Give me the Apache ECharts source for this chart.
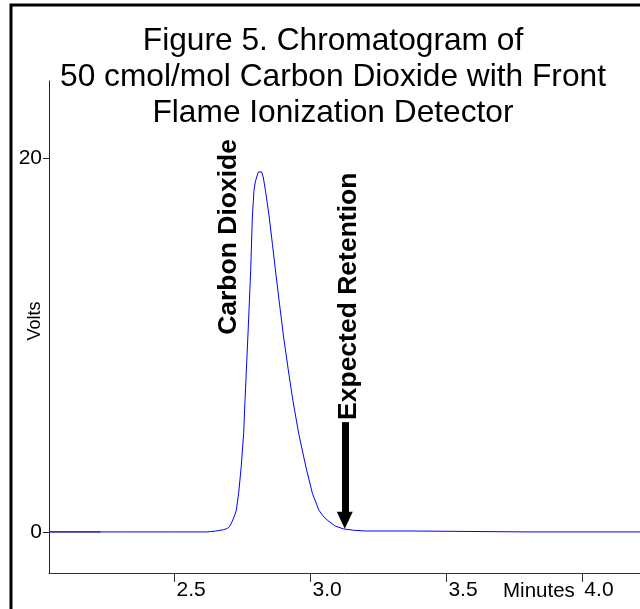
<!DOCTYPE html>
<html>
<head>
<meta charset="utf-8">
<script src="https://cdn.jsdelivr.net/npm/echarts@6/dist/echarts.min.js"></script>
<style>
html,body{margin:0;padding:0;background:#fff;}
#chart{width:640px;height:609px;}
</style>
</head>
<body>
<div id="chart"></div>
<script>
// ---- data ----
const titleLines = ['Figure 5. Chromatogram of', '50 cmol/mol Carbon Dioxide with Front', 'Flame Ionization Detector'];
const xTickValues = [2.5, 3.0, 3.5, 4.0];
const yTickValues = [0, 20];
const xAxisName = 'Minutes';
const yAxisName = 'Volts';

// main FID trace (minutes, volts)
const traceMinutes = [2.038, 2.3, 2.5, 2.62, 2.6315, 2.648, 2.663, 2.68, 2.693, 2.703, 2.711, 2.72, 2.727, 2.7355, 2.745, 2.754, 2.759, 2.770, 2.780, 2.786, 2.792, 2.797, 2.802, 2.808, 2.814, 2.820, 2.826, 2.834, 2.841, 2.848, 2.860, 2.871, 2.886, 2.901, 2.918, 2.935, 2.9565, 2.983, 3.007, 3.031, 3.046, 3.0616, 3.0917, 3.1217, 3.158, 3.20, 3.37, 3.375, 3.8, 4.212];
const traceVolts   = [0, 0, 0, 0.0, 0.02, 0.04, 0.075, 0.12, 0.18, 0.3, 0.54, 0.85, 1.16, 2.06, 3.48, 5.27, 7.05, 10.6, 14.02, 16.87, 18.30, 18.75, 19.01, 19.28, 19.37, 19.28, 19.01, 18.30, 17.6, 16.87, 15.4, 14.02, 12.2, 10.44, 8.7, 7.05, 5.27, 3.48, 2.06, 1.16, 0.86, 0.63, 0.31, 0.16, 0.09, 0.05, 0.05, 0.0, 0.0, 0.0];

// short dark overlapping baseline segment at the start
const darkMinutes = [2.038, 2.228];
const darkVolts = [0, 0];

// annotations (data coordinates)
const peakLabel = { text: 'Carbon Dioxide', at: [2.698, 15.8] };
const retentionLabel = { text: 'Expected Retention', at: [3.14, 12.62] };
const arrowFrom = [3.126, 5.88];
const arrowTo = [3.126, 0.62];

const xMin = 2.038, xMax = 4.212;
const yMin = -2.2, yMax = 24.15;

// ---- chart ----
const chart = echarts.init(document.getElementById('chart'), null, { renderer: 'canvas' });
const FONT = 'Liberation Sans, Arial, sans-serif';

const option = {
  animation: false,
  backgroundColor: '#fff',
  title: {
    text: titleLines.join('\n'),
    left: 328,
    top: 18,
    textAlign: 'center',
    textStyle: { fontFamily: FONT, fontSize: 31.7, fontWeight: 'normal', color: '#000', lineHeight: 36 }
  },
  grid: { left: 49, top: 81, width: 600, height: 492, containLabel: false },
  xAxis: {
    type: 'value',
    min: xMin, max: xMax,
    axisLine: { show: true, onZero: false, lineStyle: { color: '#333', width: 1 } },
    axisTick: { show: true, length: 9, customValues: xTickValues, lineStyle: { color: '#333' } },
    axisLabel: {
      customValues: xTickValues,
      formatter: v => v.toFixed(1),
      align: 'left', margin: 7, padding: [0, 0, 0, 2],
      fontFamily: FONT, fontSize: 21, color: '#000'
    },
    splitLine: { show: false }
  },
  yAxis: {
    type: 'value',
    min: yMin, max: yMax,
    axisLine: { show: true, onZero: false, lineStyle: { color: '#222', width: 1 } },
    axisTick: { show: true, length: 6, customValues: yTickValues, lineStyle: { color: '#222' } },
    axisLabel: {
      customValues: yTickValues,
      formatter: v => String(v),
      margin: 7,
      fontFamily: FONT, fontSize: 21, color: '#000'
    },
    splitLine: { show: false }
  },
  series: [
    {
      type: 'line',
      name: 'FID',
      data: traceMinutes.map((t, i) => [t, traceVolts[i]]),
      showSymbol: false,
      smooth: false,
      lineStyle: { color: '#0000ff', width: 1 },
      itemStyle: { color: '#0000ff' },
      z: 2,
      markLine: {
        silent: true,
        symbol: ['none', 'triangle'],
        symbolSize: [16, 17],
        label: { show: false },
        lineStyle: { color: '#000', width: 7, type: 'solid' },
        emphasis: { disabled: true },
        data: [[{ coord: arrowFrom }, { coord: arrowTo }]]
      }
    },
    {
      type: 'line',
      name: 'baseline',
      data: darkMinutes.map((t, i) => [t, darkVolts[i]]),
      showSymbol: false,
      lineStyle: { color: '#1a1a60', width: 1 },
      z: 3
    }
  ]
};
chart.setOption(option);

function place() {
  const p1 = chart.convertToPixel({ gridIndex: 0 }, peakLabel.at);
  const p2 = chart.convertToPixel({ gridIndex: 0 }, retentionLabel.at);
  const grid = chart.getModel().getComponent('grid', 0).coordinateSystem.getRect();
  chart.setOption({
    graphic: [
      {
        type: 'rect', silent: true, z: 100,
        shape: { x: 11, y: 5, width: 700, height: 700 },
        style: { fill: 'none', stroke: '#000', lineWidth: 3 }
      },
      {
        type: 'text', silent: true, x: p1[0], y: p1[1], rotation: Math.PI / 2,
        style: { text: peakLabel.text, fontFamily: FONT, fontSize: 26.5, fontWeight: 'bold', fill: '#000', align: 'center', verticalAlign: 'middle' }
      },
      {
        type: 'text', silent: true, x: p2[0], y: p2[1], rotation: Math.PI / 2,
        style: { text: retentionLabel.text, fontFamily: FONT, fontSize: 26.5, fontWeight: 'bold', fill: '#000', align: 'center', verticalAlign: 'middle' }
      },
      {
        type: 'text', silent: true, x: 35, y: grid.y + grid.height / 2 - 6, rotation: Math.PI / 2,
        style: { text: yAxisName, fontFamily: FONT, fontSize: 18, fill: '#000', align: 'center', verticalAlign: 'middle' }
      },
      {
        type: 'text', silent: true, x: 503, y: grid.y + grid.height + 8,
        style: { text: xAxisName, fontFamily: FONT, fontSize: 20.5, fill: '#000', align: 'left', verticalAlign: 'top' }
      }
    ]
  });
}
place();
</script>
</body>
</html>
